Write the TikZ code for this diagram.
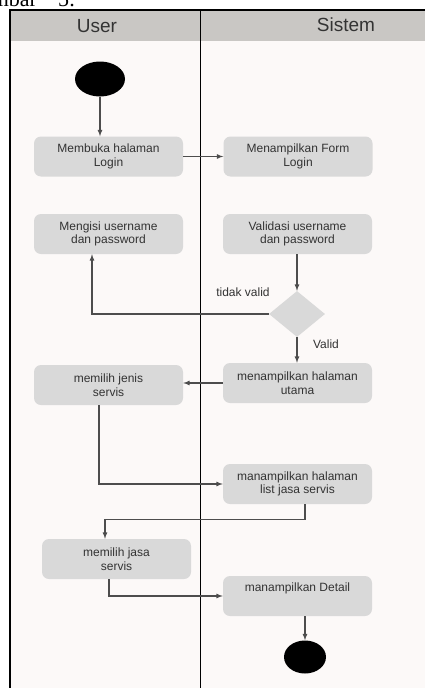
\documentclass[tikz,border=0pt]{standalone}
\usepackage{fontspec}
\setmainfont{Liberation Serif}
\newfontfamily\diagfont{Liberation Sans}
\usetikzlibrary{shapes.geometric}

\definecolor{headgray}{HTML}{C9C7C4}
\definecolor{bodybg}{HTML}{FCF9F8}
\definecolor{boxgray}{HTML}{D9D9D9}
\definecolor{linegray}{HTML}{4D4D4D}
\definecolor{txtgray}{HTML}{333333}

\begin{document}
\begin{tikzpicture}[x=1pt,y=-1pt]
\tikzstyle{azione} = [rectangle, rounded corners=7pt, fill=boxgray, minimum width=149pt, minimum height=40pt, inner sep=0, align=center, text=txtgray, font=\diagfont\fontsize{12}{13.5}\selectfont]
\tikzstyle{nodonero} = [ellipse, fill=black, inner sep=0]
\tikzstyle{freccia} = [->, >=latex, draw=linegray, line width=1.2pt]
\tikzstyle{etichetta} = [text=txtgray, font=\diagfont\fontsize{12}{14}\selectfont]

\useasboundingbox (0,0) rectangle (425,688);
\clip (0,0) rectangle (425,688);

% Sfondo e corsie
\fill[white] (0,0) rectangle (425,688);
\fill[bodybg] (10,10) rectangle (425,688);
\fill[headgray] (10,10) rectangle (425,41);
\draw[line width=0.9pt] (200,10) -- (200,688);
\draw[line width=2pt] (10,688) -- (10,10) -- (425,10);

% Titolo tagliato
\node[anchor=base west, inner sep=0, font=\fontsize{22}{24}\selectfont] (titolo) at (-34,6) {Gambar\hskip 21pt 5:};

% Intestazioni
\node[font=\diagfont\fontsize{19}{22}\selectfont, text=txtgray] (user) at (97,26) {User};
\node[font=\diagfont\fontsize{19}{22}\selectfont, text=txtgray] (sistem) at (346,25) {Sistem};

% Azioni
\foreach \nome/\x/\y/\testo in {
    login/108.5/156.5/{Membuka halaman\\Login},
    form/298/156.5/{Menampilkan Form\\Login},
    isi/108.5/234/{Mengisi username\\dan password},
    validasi/297.5/234/{Validasi username\\dan password},
    jenis/108.5/385/{memilih jenis\\servis},
    utama/297.5/383/{menampilkan halaman\\utama},
    lista/297.5/484/{manampilkan halaman\\list jasa servis},
    jasa/116.5/559/{memilih jasa\\servis},
    detail/297.5/596/{manampilkan Detail\\\strut}} {
  \node[azione] (\nome) at (\x,\y) {\testo};
}

% Inizio, fine e decisione
\node[nodonero, minimum width=50pt, minimum height=35pt] (inizio) at (100,79) {};
\node[nodonero, minimum width=42pt, minimum height=33pt] (fine) at (305,657) {};
\node[diamond, fill=boxgray, minimum width=56pt, minimum height=46pt, inner sep=0] (cek) at (297,314) {};

% Frecce
\draw[freccia] (inizio) -- (inizio |- login.north);
\draw[freccia] (login) -- (form);
\draw[freccia] (validasi.south -| cek) -- (cek);
\draw[freccia] (cek.west) -| ([xshift=-16.5pt]isi.south);
\draw[freccia] (cek) -- (cek |- utama.north);
\draw[freccia] (utama.west) -- (utama.west -| jenis.east);
\draw[freccia] ([xshift=-9.5pt]jenis.south) |- (lista.west);
\draw[freccia] ([xshift=7.5pt]lista.south) -- ++(0,15) -| ([xshift=-11.5pt]jasa.north);
\draw[freccia] ([xshift=-7.5pt]jasa.south) |- (detail.west);
\draw[freccia] (detail.south -| fine) -- (fine);

% Etichette
\node[etichetta] (tidak) at (243,292) {tidak valid};
\node[etichetta] (valid) at (326,344) {Valid};

\end{tikzpicture}
\end{document}
